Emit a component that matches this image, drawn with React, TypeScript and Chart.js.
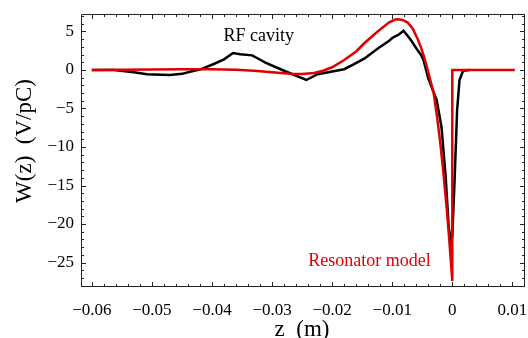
import React, { useEffect, useRef } from "react";
import { Chart, registerables } from "chart.js";
Chart.register(...registerables);

// RF cavity wake (black)
const rfZ = [-0.06, -0.0563, -0.053, -0.0508, -0.047, -0.045, -0.0435, -0.0419, -0.0397, -0.038, -0.0365, -0.0353, -0.0333, -0.0319, -0.0312, -0.028, -0.0243, -0.0224, -0.02, -0.018, -0.0165, -0.0146, -0.0124, -0.0105, -0.0099, -0.0089, -0.0081, -0.0069, -0.0058, -0.0052, -0.0048, -0.0044, -0.004, -0.0033, -0.0026, -0.0018, -0.0011, -0.0006, -0.0002, 0, 0.0004, 0.0008, 0.0012, 0.0018, 0.0029];
const rfW = [0, 0, -0.3, -0.56, -0.65, -0.5, -0.2, 0.09, 0.78, 1.38, 2.2, 2.03, 1.9, 1.3, 1.0, -0.1, -1.3, -0.55, -0.2, 0.1, 0.7, 1.5, 2.8, 3.8, 4.2, 4.6, 5.1, 3.9, 2.6, 1.95, 1.3, 0.1, -1.1, -2.5, -3.9, -7.4, -13.9, -20.4, -22.3, -21.6, -13.9, -5.2, -1.3, -0.1, 0];

// Resonator model wake (red)
const resZ = [-0.06, -0.055, -0.05, -0.045, -0.04, -0.036, -0.033, -0.03, -0.027, -0.025, -0.023, -0.0215, -0.02, -0.018, -0.016, -0.0146, -0.013, -0.0118, -0.0105, -0.0095, -0.009, -0.0083, -0.0074, -0.0066, -0.0058, -0.0052, -0.0047, -0.0042, -0.0035, -0.0031, -0.0025, -0.002, -0.0015, -0.0009, -0.0005, 0, 0, 0.0104];
const resW = [0, 0.02, 0.05, 0.08, 0.08, 0.02, -0.1, -0.3, -0.48, -0.52, -0.4, -0.1, 0.35, 1.3, 2.4, 3.5, 4.6, 5.4, 6.2, 6.55, 6.6, 6.5, 6.15, 5.4, 4.1, 2.9, 1.7, 0.3, -1.8, -3.0, -6.3, -9.5, -13.2, -18.2, -22.1, -27.4, 0, 0];

const xTickValues = [-0.06, -0.05, -0.04, -0.03, -0.02, -0.01, 0, 0.01];
const xTickLabels = ["\u22120.06", "\u22120.05", "\u22120.04", "\u22120.03", "\u22120.02", "\u22120.01", "0", "0.01"];
const yTickValues = [5, 0, -5, -10, -15, -20, -25];
const yTickLabels = ["5", "0", "\u22125", "\u221210", "\u221215", "\u221220", "\u221225"];
const xRange = [-0.0618, 0.0121];
const yRange = [-28.18, 7.27];
const xMinorStep = 0.002;
const yMinorStep = 1;

const xTitle = "z  (m)";
const yTitle = "W(z)  (V/pC)";
const rfLabel = { text: "RF cavity", z: -0.0322, w: 3.8 };
const resLabel = { text: "Resonator model", z: -0.0138, w: -25.4 };

const FONT = "'Liberation Serif', 'Times New Roman', serif";

const framePlugin = {
  id: "frameTicks",
  afterDatasetsDraw(chart: any) {
    const { ctx, chartArea, scales } = chart;
    const { left, right, top, bottom } = chartArea;
    const xs = scales.x;
    const ys = scales.y;
    ctx.save();
    ctx.strokeStyle = "#222";
    ctx.lineWidth = 1;
    ctx.beginPath();
    ctx.rect(left + 0.5, top + 0.5, right - left - 1, bottom - top - 1);
    ctx.stroke();
    const isMajor = (v: number, arr: number[]) => arr.some((a) => Math.abs(a - v) < 1e-9);
    ctx.beginPath();
    for (let i = Math.ceil(xRange[0] / xMinorStep); i * xMinorStep <= xRange[1] + 1e-12; i++) {
      const v = i * xMinorStep;
      const px = Math.round(xs.getPixelForValue(v)) + 0.5;
      const len = isMajor(v, xTickValues) ? 5 : 3;
      ctx.moveTo(px, bottom);
      ctx.lineTo(px, bottom - len);
      ctx.moveTo(px, top);
      ctx.lineTo(px, top + len);
    }
    for (let i = Math.ceil(yRange[0] / yMinorStep); i * yMinorStep <= yRange[1] + 1e-12; i++) {
      const v = i * yMinorStep;
      const py = Math.round(ys.getPixelForValue(v)) + 0.5;
      const len = isMajor(v, yTickValues) ? 5 : 3;
      ctx.moveTo(left, py);
      ctx.lineTo(left + len, py);
      ctx.moveTo(right, py);
      ctx.lineTo(right - len, py);
    }
    ctx.stroke();

    // annotations
    ctx.font = `18px ${FONT}`;
    ctx.textAlign = "center";
    ctx.textBaseline = "alphabetic";
    ctx.fillStyle = "#000";
    ctx.fillText(rfLabel.text, xs.getPixelForValue(rfLabel.z), ys.getPixelForValue(rfLabel.w));
    ctx.fillStyle = "#e00000";
    ctx.fillText(resLabel.text, xs.getPixelForValue(resLabel.z), ys.getPixelForValue(resLabel.w));

    // axis titles
    ctx.fillStyle = "#000";
    ctx.font = `23px ${FONT}`;
    ctx.textBaseline = "alphabetic";
    ctx.fillText(xTitle, 302, 336);
    ctx.save();
    ctx.translate(25, 141);
    ctx.rotate(-Math.PI / 2);
    ctx.textBaseline = "middle";
    ctx.fillText(yTitle, 0, 0);
    ctx.restore();
    ctx.restore();
  },
};

const zeroPad = (s: any) => {
  s.paddingLeft = 0;
  s.paddingRight = 0;
  s.paddingTop = 0;
  s.paddingBottom = 0;
};

export default function App() {
  const ref = useRef<HTMLCanvasElement | null>(null);
  useEffect(() => {
    if (!ref.current) return;
    const chart = new Chart(ref.current, {
      type: "line",
      data: {
        datasets: [
          {
            label: "Resonator model",
            data: resZ.map((z, i) => ({ x: z, y: resW[i] })),
            borderColor: "#e00000",
            borderWidth: 2.5,
            pointRadius: 0,
            tension: 0,
            fill: false,
          },
          {
            label: "RF cavity",
            data: rfZ.map((z, i) => ({ x: z, y: rfW[i] })),
            borderColor: "#000000",
            borderWidth: 2.5,
            pointRadius: 0,
            tension: 0,
            fill: false,
          },
        ],
      },
      options: {
        responsive: false,
        animation: false,
        layout: { padding: { left: 0, right: 3, top: 14, bottom: 0 } },
        plugins: { legend: { display: false }, tooltip: { enabled: false } },
        scales: {
          x: {
            type: "linear",
            min: xRange[0],
            max: xRange[1],
            grid: { display: false, drawTicks: false },
            border: { display: false },
            afterFit: (s: any) => { s.height = 51; zeroPad(s); },
            afterBuildTicks: (s: any) => { s.ticks = xTickValues.map((v) => ({ value: v })); },
            ticks: {
              color: "#000",
              font: { family: FONT, size: 17 },
              padding: 13,
              maxRotation: 0,
              autoSkip: false,
              callback: (v: any) => {
                const i = xTickValues.findIndex((a) => Math.abs(a - Number(v)) < 1e-9);
                return i >= 0 ? xTickLabels[i] : "";
              },
            },
          },
          y: {
            type: "linear",
            min: yRange[0],
            max: yRange[1],
            grid: { display: false, drawTicks: false },
            border: { display: false },
            afterFit: (s: any) => { s.width = 81; zeroPad(s); },
            afterBuildTicks: (s: any) => { s.ticks = yTickValues.map((v) => ({ value: v })); },
            ticks: {
              color: "#000",
              font: { family: FONT, size: 17 },
              padding: 7,
              autoSkip: false,
              callback: (v: any) => {
                const i = yTickValues.findIndex((a) => Math.abs(a - Number(v)) < 1e-9);
                return i >= 0 ? yTickLabels[i] : "";
              },
            },
          },
        },
      },
      plugins: [framePlugin],
    });
    return () => chart.destroy();
  }, []);
  return (
    <div style={{ position: "absolute", left: 0, top: 0, width: 528, height: 338, background: "#fff" }}>
      <canvas ref={ref} width={528} height={338} style={{ display: "block" }} />
    </div>
  );
}
